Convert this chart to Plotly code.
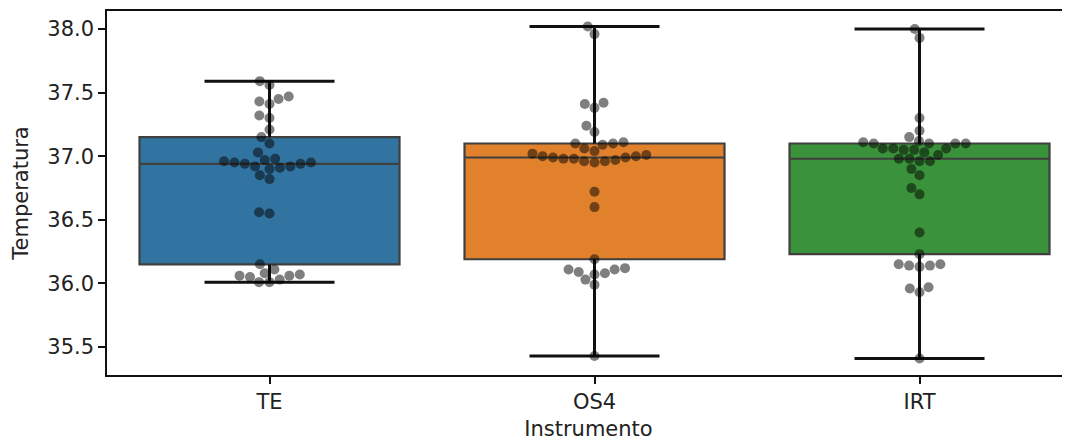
import numpy as np
import plotly.graph_objects as go

# ---------------- data ----------------
categories = ["TE", "OS4", "IRT"]

te_values = [36.01, 36.01, 36.03, 36.05, 36.06, 36.06, 36.07, 36.08, 36.11, 36.15,
             36.55, 36.56, 36.82, 36.85,
             36.90, 36.91, 36.92, 36.92, 36.94, 36.94, 36.95, 36.95, 36.96,
             36.97, 36.98, 37.03, 37.10, 37.15,
             37.21, 37.30, 37.32, 37.41, 37.43, 37.45, 37.47, 37.56, 37.59]

os4_values = [35.43, 35.99, 36.03, 36.07, 36.08, 36.09, 36.11, 36.11, 36.12, 36.19,
              36.60, 36.72,
              36.95, 36.96, 36.96, 36.97, 36.98, 36.98, 36.99, 36.99, 37.00, 37.00, 37.01, 37.02,
              37.04, 37.06, 37.09, 37.10, 37.10, 37.11,
              37.19, 37.24, 37.38, 37.41, 37.42, 37.96, 38.02]

irt_values = [35.41, 35.93, 35.96, 35.97, 36.13, 36.14, 36.14, 36.15, 36.15, 36.23,
              36.40, 36.70, 36.75, 36.85, 36.90,
              36.96, 36.96, 36.98, 36.98, 37.01, 37.03,
              37.05, 37.05, 37.06, 37.06, 37.06,
              37.10, 37.10, 37.10, 37.10, 37.11, 37.12,
              37.15, 37.20, 37.30, 37.93, 38.00]

series = [te_values, os4_values, irt_values]
box_colors = ["#3274a1", "#e1812c", "#3a923a"]
y_ticks = [35.5, 36.0, 36.5, 37.0, 37.5, 38.0]

# ---------------- layout geometry ----------------
# the page body adds an 8px offset, so the figure is 8px smaller on each side
W, H = 1062, 433
ML, MR, MT, MB = 99, 0, 3, 66
X_RANGE = [-0.5, 2.463]
Y_RANGE = [35.280, 38.1415]
px_per_x = (W - ML - MR) / (X_RANGE[1] - X_RANGE[0])
px_per_y = (H - MT - MB) / (Y_RANGE[1] - Y_RANGE[0])
DOT = 10  # marker diameter in px


def swarm_offsets(values):
    """Seaborn-like beeswarm: returns x offsets (data units) for each value."""
    vals = np.asarray(values, float)
    order = np.argsort(vals, kind="stable")
    ys = vals[order] * px_per_y
    px_list, py_list = [], []
    d = DOT
    for y in ys:
        nb = []
        for px, py in zip(reversed(px_list), reversed(py_list)):
            if y - py < d:
                nb.append((px, py))
            else:
                break
        cands = [0.0]
        left = True
        for px, py in nb:
            dx = np.sqrt(max(d * d - (y - py) ** 2, 0.0)) * 1.05
            pair = [px - dx, px + dx] if left else [px + dx, px - dx]
            cands.extend(pair)
            left = not left
        cands = sorted(cands, key=abs)
        chosen = cands[-1]
        for c in cands:
            if all((c - px) ** 2 + (y - py) ** 2 >= d * d - 1e-6 for px, py in nb):
                chosen = c
                break
        px_list.append(chosen)
        py_list.append(y)
    out = np.empty(len(vals))
    out[order] = np.array(px_list) / px_per_x
    return out


def box_stats(values):
    v = np.asarray(values, float)
    q1, med, q3 = np.percentile(v, [25, 50, 75])
    iqr = q3 - q1
    lo = v[v >= q1 - 1.5 * iqr].min()
    hi = v[v <= q3 + 1.5 * iqr].max()
    return q1, med, q3, lo, hi


fig = go.Figure()

# boxes
for i, (cat, vals, col) in enumerate(zip(categories, series, box_colors)):
    q1, med, q3, lo, hi = box_stats(vals)
    fig.add_trace(go.Box(
        x=[i], q1=[q1], median=[med], q3=[q3], lowerfence=[q1], upperfence=[q3],
        width=0.8, fillcolor=col, line=dict(color="#3f3f3f", width=2.2),
        whiskerwidth=0, boxpoints=False, showlegend=False, hoverinfo="skip",
        name=cat,
    ))

# whiskers and caps
for i, vals in enumerate(series):
    q1, med, q3, lo, hi = box_stats(vals)
    cap = 0.2
    fig.add_trace(go.Scatter(
        x=[i, i, None, i, i, None, i - cap, i + cap, None, i - cap, i + cap],
        y=[q3, hi, None, q1, lo, None, hi, hi, None, lo, lo],
        mode="lines", line=dict(color="#111111", width=3),
        showlegend=False, hoverinfo="skip",
    ))

# swarm points
for i, vals in enumerate(series):
    offs = swarm_offsets(vals)
    fig.add_trace(go.Scatter(
        x=i + offs, y=vals, mode="markers",
        marker=dict(size=DOT, color="rgba(0,0,0,0.5)", line=dict(width=0)),
        showlegend=False, hoverinfo="skip",
    ))

font = dict(family="DejaVu Sans", size=21, color="#222222")
axis_common = dict(
    showgrid=False, zeroline=False, ticks="outside", ticklen=7, tickwidth=1.5,
    tickcolor="#111111", showline=True, linecolor="#111111", linewidth=1.5,
    tickfont=font, automargin=False,
)

fig.update_layout(
    width=W, height=H,
    margin=dict(l=ML, r=MR, t=MT, b=MB),
    paper_bgcolor="white", plot_bgcolor="white",
    font=font,
    xaxis=dict(range=X_RANGE, tickvals=[0, 1, 2], ticktext=categories,
               mirror=True, title=dict(text="Instrumento", font=font, standoff=13),
               **axis_common),
    yaxis=dict(range=Y_RANGE, tickvals=y_ticks, tickformat=".1f",
               mirror=False, title=dict(text="Temperatura", font=font, standoff=13),
               **axis_common),
)

fig.write_html("out.html")
